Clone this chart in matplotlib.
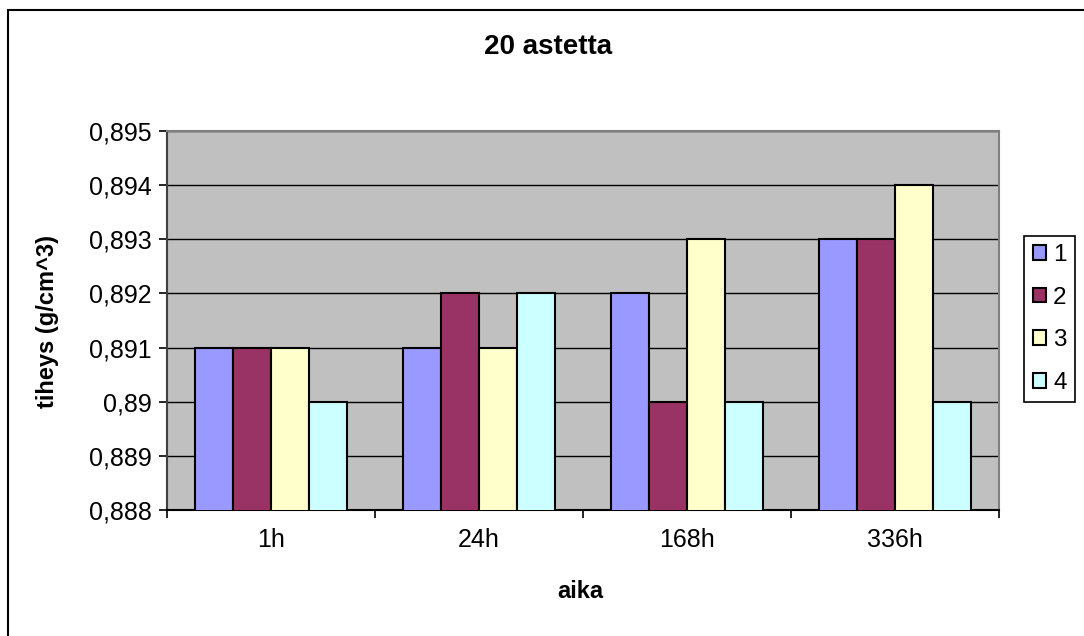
import numpy as np
import matplotlib
matplotlib.use('Agg')
import matplotlib.pyplot as plt
from matplotlib.patches import Rectangle

plt.rcParams['font.family'] = ['Liberation Sans', 'DejaVu Sans']

#data
categories = ['1h', '24h', '168h', '336h']
series_names = ['1', '2', '3', '4']
s1 = [0.891, 0.891, 0.892, 0.893]
s2 = [0.891, 0.892, 0.890, 0.893]
s3 = [0.891, 0.891, 0.893, 0.894]
s4 = [0.890, 0.892, 0.890, 0.890]
yticks = [0.888, 0.889, 0.890, 0.891, 0.892, 0.893, 0.894, 0.895]
yticklabels = ['0,888', '0,889', '0,89', '0,891', '0,892', '0,893', '0,894', '0,895']
colors = ['#9999FF', '#993366', '#FFFFCC', '#CCFFFF']

fig = plt.figure(figsize=(10.84, 6.36), dpi=100)
ax = fig.add_axes([167/1084, 1-510/636, (999-167)/1084, (510-131)/636])
ax.set_facecolor('#C0C0C0')

x = np.arange(len(categories))
w = 1/5.5  # gap width 150%
for i, (vals, c, name) in enumerate(zip([s1, s2, s3, s4], colors, series_names)):
    ax.bar(x + (i-1.5)*w, vals, width=w, color=c, edgecolor='k', linewidth=1.5,
           label=name, zorder=3)

ax.set_xlim(-0.5, len(categories)-0.5)
ax.set_ylim(0.888, 0.895)
ax.set_yticks(yticks)
ax.set_yticklabels(yticklabels)
ax.yaxis.grid(True, color='k', lw=1, zorder=0)
ax.set_axisbelow(True)

# category labels at centres, tick marks at group boundaries
ax.set_xticks(x)
ax.set_xticklabels(categories)
ax.set_xticks(np.arange(len(categories)+1)-0.5, minor=True)
ax.tick_params(axis='x', which='major', length=0, pad=13, labelsize=18)
ax.tick_params(axis='x', which='minor', length=6, width=1.2, direction='out')
ax.tick_params(axis='y', length=6, width=1.2, direction='out', pad=5, labelsize=18)

for side in ['top', 'right']:
    ax.spines[side].set_color('#808080')
    ax.spines[side].set_linewidth(1.5)
ax.spines['left'].set_color('#404040')
ax.spines['left'].set_linewidth(1.5)
ax.spines['bottom'].set_color('k')
ax.spines['bottom'].set_linewidth(1.5)

fig.text(548/1084, 1-47/636, '20 astetta', ha='center', va='center',
         fontsize=20, fontweight='bold')
fig.text(48/1084, 1-322/636, 'tiheys (g/cm^3)', ha='center', va='center',
         rotation=90, fontsize=17, fontweight='bold')
fig.text(580/1084, 1-591/636, 'aika', ha='center', va='center',
         fontsize=17, fontweight='bold')

leg = fig.legend(loc='center left', bbox_to_anchor=(1024/1084, 1-319/636),
                 fontsize=17.5, frameon=True, fancybox=False, framealpha=1,
                 edgecolor='k', handlelength=0.55, handleheight=0.55,
                 handletextpad=0.3, labelspacing=0.85, borderpad=0.35,
                 borderaxespad=0)
leg.get_frame().set_linewidth(1.2)

# chart border
fig.patches.append(Rectangle((8/1084, -0.05), 1.1, 1-10/636+0.05,
                             transform=fig.transFigure, fill=False,
                             edgecolor='k', lw=1.5))

fig.savefig('out.png', dpi=100)
